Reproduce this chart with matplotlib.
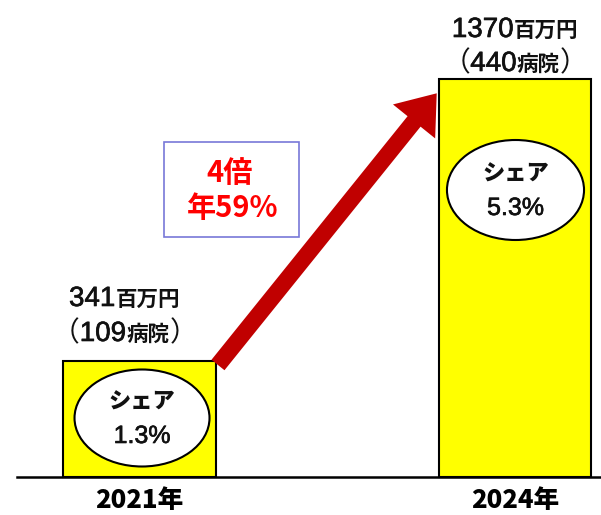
import matplotlib
matplotlib.use("Agg")
import matplotlib.pyplot as plt
import matplotlib.patheffects as pe
from matplotlib.patches import Ellipse, Rectangle, FancyArrowPatch, ArrowStyle

plt.rcParams['font.family'] = ['Noto Sans CJK JP', 'DejaVu Sans']
LAT = ['Liberation Sans', 'Noto Sans CJK JP']
# digits in the original look a touch heavier than Liberation regular
HEAVY = [pe.withStroke(linewidth=0.45, foreground='#111111')]

# data
years = ["2021年", "2024年"]
bar_heights = [116, 398]          # drawn heights (px in original)
amounts = ["341", "1370"]         # 百万円
hospitals = ["109", "440"]        # 病院
shares = ["1.3%", "5.3%"]
growth_lines = ["4倍", "年59%"]

fig = plt.figure(figsize=(6.01, 5.15), dpi=100)
ax = fig.add_axes([0, 0, 1, 1])
ax.set_xlim(-0.3715, 1.229)
ax.set_ylim(-38, 477)
ax.axis('off')

xs = list(range(len(years)))
ax.bar(xs, bar_heights, width=0.405, color='#ffff00', edgecolor='black',
       linewidth=1.5, zorder=2)
ax.plot([-0.326, 1.229], [0, 0], color='black', lw=1.8, zorder=3)

renderer = fig.canvas.get_renderer()


def mixed_label(x, y, parts):
    # parts: (text, size, weight, family); one baseline, centred at x
    anns = []
    for s, fs, w, fam in parts:
        a = ax.annotate(s, xy=(x, y), xytext=(0, 0), textcoords='offset pixels',
                        fontsize=fs, fontweight=w, family=fam, ha='left',
                        va='baseline', color='#111111')
        if fam == LAT:
            a.set_path_effects(HEAVY)
        anns.append(a)
    widths = [a.get_window_extent(renderer).width for a in anns]
    left = -sum(widths) / 2
    for a, wd in zip(anns, widths):
        a.xyann = (left, 0)
        left += wd


gaps = [(55, 20), (42, 8)]
for x, h, amt, hosp, (g1, g2) in zip(xs, bar_heights, amounts, hospitals, gaps):
    cx = x - 0.04 if x == 0 else x
    mixed_label(cx, h + g1,
                [(amt, 20, 'normal', LAT), ("百万円", 15.5, 'bold', None)])
    mixed_label(cx, h + g2,
                [("（", 20, 'normal', None), (hosp, 20, 'normal', LAT),
                 ("病院", 15.5, 'bold', None), ("）", 20, 'normal', None)])
    ax.text(x, -23, years[x], fontsize=18.5, fontweight='black',
            ha='center', va='center')

# share ellipses
ell_centers = [(0.0067, 59), (1.0013, 287)]
ell_sizes = [(0.3595, 97), (0.365, 100)]
for (cx, cy), (w, h), sh in zip(ell_centers, ell_sizes, shares):
    ax.add_patch(Ellipse((cx, cy), w, h, facecolor='white', edgecolor='black',
                         lw=1.5, zorder=4))
    ax.text(cx, cy + 16, "シェア", fontsize=16, fontweight='black',
            ha='center', va='center', zorder=5, color='#111111')
    ax.text(cx, cy - 18, sh, fontsize=18, family=LAT, ha='center',
            va='center', zorder=5, color='#111111', path_effects=HEAVY)

# growth box
ax.add_patch(Rectangle((0.0652, 240), 0.3596, 95, facecolor='white',
                       edgecolor='#7878d8', lw=1.2, zorder=4))
ax.text(0.241, 304, growth_lines[0], fontsize=21, fontweight='bold',
        color='#ff0000', ha='center', va='center', zorder=5)
ax.text(0.2477, 269, growth_lines[1], fontsize=21, fontweight='bold',
        color='#ff0000', ha='center', va='center', zorder=5)

# arrow
arrow = FancyArrowPatch((0.209, 112), (0.7915, 383.7),
                        arrowstyle=ArrowStyle.Simple(head_length=26, head_width=39,
                                                     tail_width=12),
                        color='#c00000', lw=0, shrinkA=0, shrinkB=0, zorder=3)
ax.add_patch(arrow)

fig.savefig("out.png", dpi=100)
